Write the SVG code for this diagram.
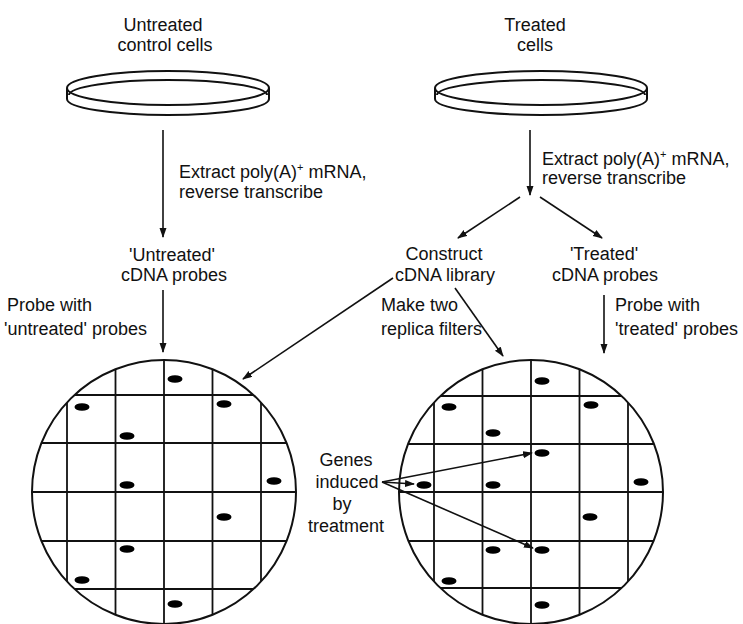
<svg xmlns="http://www.w3.org/2000/svg" width="743" height="624" viewBox="0 0 743 624">
<style>
text{font-family:"Liberation Sans",Arial,sans-serif;font-size:18px;fill:#111}
.c{text-anchor:middle}
.dish{fill:none;stroke:#111;stroke-width:2}
.grid line{stroke:#111;stroke-width:1.8}
.rim{fill:none;stroke:#111;stroke-width:2}
.dot{fill:#000}
.arr{fill:none;stroke:#111;stroke-width:1.6;marker-end:url(#ah)}
.sup{font-size:11px}
</style>
<defs>
<marker id="ah" markerUnits="userSpaceOnUse" markerWidth="10" markerHeight="8" refX="9" refY="3.5" orient="auto">
<path d="M0,0 L10,3.5 L0,7 z" fill="#111"/>
</marker>
<clipPath id="clipL"><circle cx="164" cy="492" r="132"/></clipPath>
<clipPath id="clipR"><circle cx="531" cy="492" r="132"/></clipPath>
</defs>

<g id="untreated-cells">
<text class="c" x="163" y="31">Untreated</text>
<text class="c" x="165" y="51">control cells</text>
<path class="dish" d="M67,88 A101,17 0 0 1 269,88 A101,17 0 0 1 67,88 Z"/>
<path class="dish" d="M69,95 A99,15 0 0 1 267,95"/>
<path class="dish" d="M67,88 L67,99 M269,88 L269,99"/>
<path class="dish" d="M67,99 A101,16 0 0 0 269,99"/>
</g>

<g id="treated-cells">
<text class="c" x="535" y="31">Treated</text>
<text class="c" x="535" y="51">cells</text>
<path class="dish" d="M435,88 A106,17 0 0 1 647,88 A106,17 0 0 1 435,88 Z"/>
<path class="dish" d="M437,95 A104,15 0 0 1 645,95"/>
<path class="dish" d="M435,88 L435,99 M647,88 L647,99"/>
<path class="dish" d="M435,99 A106,16 0 0 0 647,99"/>
</g>

<g id="untreated-probes">
<text class="c" x="172" y="261">'Untreated'</text>
<text class="c" x="174" y="281">cDNA probes</text>
</g>

<g id="cdna-library">
<text class="c" x="444" y="260">Construct</text>
<text class="c" x="445" y="281">cDNA library</text>
</g>

<g id="treated-probes">
<text class="c" x="604" y="260">'Treated'</text>
<text class="c" x="605" y="281">cDNA probes</text>
</g>

<g id="filter-left">
<g class="grid" clip-path="url(#clipL)">
<line x1="67" y1="350" x2="67" y2="630"/>
<line x1="115.5" y1="350" x2="115.5" y2="630"/>
<line x1="164" y1="350" x2="164" y2="630"/>
<line x1="212.5" y1="350" x2="212.5" y2="630"/>
<line x1="261" y1="350" x2="261" y2="630"/>
<line x1="20" y1="395" x2="310" y2="395"/>
<line x1="20" y1="443" x2="310" y2="443"/>
<line x1="20" y1="492" x2="310" y2="492"/>
<line x1="20" y1="541" x2="310" y2="541"/>
<line x1="20" y1="589" x2="310" y2="589"/>
</g>
<circle class="rim" cx="164" cy="492" r="132"/>
<ellipse class="dot" cx="175" cy="379" rx="7.5" ry="3.8"/>
<ellipse class="dot" cx="82" cy="407" rx="7.5" ry="3.8"/>
<ellipse class="dot" cx="224" cy="404" rx="7.5" ry="3.8"/>
<ellipse class="dot" cx="127" cy="436" rx="7.5" ry="3.8"/>
<ellipse class="dot" cx="274" cy="481" rx="7.5" ry="3.8"/>
<ellipse class="dot" cx="127" cy="485" rx="7.5" ry="3.8"/>
<ellipse class="dot" cx="224" cy="517" rx="7.5" ry="3.8"/>
<ellipse class="dot" cx="127" cy="549" rx="7.5" ry="3.8"/>
<ellipse class="dot" cx="82" cy="580" rx="7.5" ry="3.8"/>
<ellipse class="dot" cx="175" cy="604" rx="7.5" ry="3.8"/>
</g>

<g id="filter-right">
<g class="grid" clip-path="url(#clipR)">
<line x1="434" y1="350" x2="434" y2="630"/>
<line x1="482.5" y1="350" x2="482.5" y2="630"/>
<line x1="531" y1="350" x2="531" y2="630"/>
<line x1="579.5" y1="350" x2="579.5" y2="630"/>
<line x1="628" y1="350" x2="628" y2="630"/>
<line x1="390" y1="396" x2="680" y2="396"/>
<line x1="390" y1="444" x2="680" y2="444"/>
<line x1="390" y1="492" x2="680" y2="492"/>
<line x1="390" y1="541" x2="680" y2="541"/>
<line x1="390" y1="588" x2="680" y2="588"/>
</g>
<circle class="rim" cx="531" cy="492" r="132"/>
<ellipse class="dot" cx="542" cy="381" rx="7.5" ry="3.8"/>
<ellipse class="dot" cx="449" cy="407" rx="7.5" ry="3.8"/>
<ellipse class="dot" cx="591" cy="405" rx="7.5" ry="3.8"/>
<ellipse class="dot" cx="493" cy="433" rx="7.5" ry="3.8"/>
<ellipse class="dot" cx="542" cy="453" rx="7.5" ry="3.8"/>
<ellipse class="dot" cx="424" cy="485" rx="7.5" ry="3.8"/>
<ellipse class="dot" cx="493" cy="485" rx="7.5" ry="3.8"/>
<ellipse class="dot" cx="641" cy="482" rx="7.5" ry="3.8"/>
<ellipse class="dot" cx="590" cy="517" rx="7.5" ry="3.8"/>
<ellipse class="dot" cx="493" cy="550" rx="7.5" ry="3.8"/>
<ellipse class="dot" cx="542" cy="550" rx="7.5" ry="3.8"/>
<ellipse class="dot" cx="449" cy="581" rx="7.5" ry="3.8"/>
<ellipse class="dot" cx="542" cy="605" rx="7.5" ry="3.8"/>
</g>

<g id="genes-label">
<text class="c" x="346" y="466">Genes</text>
<text class="c" x="347" y="488">induced</text>
<text class="c" x="342" y="510">by</text>
<text class="c" x="346" y="532">treatment</text>
</g>

<g id="connectors">
<line class="arr" x1="163" y1="130" x2="163" y2="237"/>
<line class="arr" x1="530" y1="130" x2="530" y2="195"/>
<line class="arr" x1="520" y1="197" x2="458" y2="238"/>
<line class="arr" x1="540" y1="197" x2="602" y2="238"/>
<line class="arr" x1="163" y1="290" x2="163" y2="352"/>
<line class="arr" x1="393" y1="278" x2="243" y2="379"/>
<line class="arr" x1="455" y1="288" x2="503" y2="356"/>
<line class="arr" x1="604" y1="295" x2="604" y2="353"/>
<line class="arr" x1="382" y1="482" x2="532" y2="453"/>
<line class="arr" x1="382" y1="482" x2="414" y2="484"/>
<line class="arr" x1="382" y1="482" x2="533" y2="548"/>
</g>

<g id="connector-labels">
<text x="179" y="178">Extract poly(A)<tspan class="sup" dy="-7">+</tspan><tspan dy="7"> mRNA,</tspan></text>
<text x="179" y="198">reverse transcribe</text>
<text x="542" y="165">Extract poly(A)<tspan class="sup" dy="-7">+</tspan><tspan dy="7"> mRNA,</tspan></text>
<text x="542" y="184">reverse transcribe</text>
<text x="7" y="311">Probe with</text>
<text x="4" y="335">'untreated' probes</text>
<text x="381" y="311">Make two</text>
<text x="381" y="335">replica filters</text>
<text x="615" y="311">Probe with</text>
<text x="615" y="335">'treated' probes</text>
</g>
</svg>
